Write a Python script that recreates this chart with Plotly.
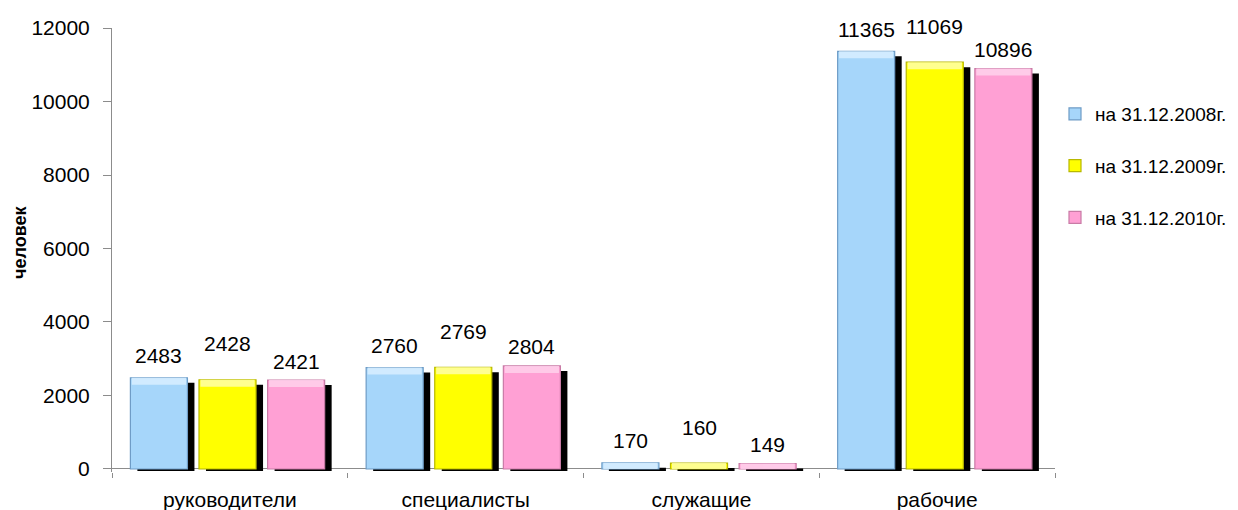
import plotly.graph_objects as go

categories = ["руководители", "специалисты", "служащие", "рабочие"]
series_names = ["на 31.12.2008г.", "на 31.12.2009г.", "на 31.12.2010г."]
v2008 = [2483, 2760, 170, 11365]
v2009 = [2428, 2769, 160, 11069]
v2010 = [2421, 2804, 149, 10896]
y_ticks = [0, 2000, 4000, 6000, 8000, 10000, 12000]
y_tick_labels = ["0", "2000", "4000", "6000", "8000", "10000", "12000"]

values = [v2008, v2009, v2010]
fills = ["#A6D6FA", "#FFFF00", "#FFA0D4"]
edges = ["#6E9CC6", "#B8B800", "#C97BA6"]
lights = ["#D8EEFF", "#FFFFA8", "#FFD2EC"]
offsets = [-0.422, -0.131, 0.160]
lifts = [22, 36, 19]
W = 0.242
SH_DX = 0.0297     # shadow shift (category units ~7px)
SH_DROP = 136      # shadow top drop (~5px)
SH_BASE = -54      # shadow bottom below axis (~2px)
HL = 190           # top highlight band (~7px)

fig = go.Figure()

# shadows
for vals, off in zip(values, offsets):
    fig.add_trace(go.Bar(
        x=categories, y=[max(v - SH_DROP, 0) - SH_BASE for v in vals], base=SH_BASE,
        offset=off + SH_DX, width=W, marker=dict(color="black", line=dict(width=0)),
        showlegend=False, hoverinfo="skip"))

# main bars
for name, vals, off, fc, ec in zip(series_names, values, offsets, fills, edges):
    fig.add_trace(go.Bar(
        x=categories, y=vals, name=name, offset=off, width=W,
        marker=dict(color=fc, line=dict(color=ec, width=1.2)),
        legendgroup=name))

# top bevel highlight
for vals, off, lc in zip(values, offsets, lights):
    fig.add_trace(go.Bar(
        x=categories, y=[min(HL, v) for v in vals], base=[v - min(HL, v) for v in vals],
        offset=off + 0.006, width=W - 0.012,
        marker=dict(color=lc, line=dict(width=0)), opacity=0.85,
        showlegend=False, hoverinfo="skip"))

# data labels
for vals, off, lift in zip(values, offsets, lifts):
    for i, v in enumerate(vals):
        fig.add_annotation(x=i + off + W / 2, y=v, xref="x", yref="y",
                           text=str(v), showarrow=False, yshift=lift,
                           yanchor="middle", xanchor="center",
                           font=dict(size=21, family="Liberation Sans", color="black"))

fig.add_annotation(text="<b>человек</b>", xref="paper", yref="paper",
                   x=-0.0976, y=0.518, textangle=-90, showarrow=False,
                   xanchor="center", yanchor="middle",
                   font=dict(size=18, family="Liberation Sans", color="black"))

boundaries = [i - 0.5 for i in range(len(categories) + 1)]

fig.update_layout(
    width=1238, height=510,
    margin=dict(l=104, r=191, t=20, b=46, autoexpand=False),
    paper_bgcolor="white", plot_bgcolor="white",
    barmode="overlay",
    font=dict(family="Liberation Sans", color="black"),
    xaxis=dict(type="category", range=[-0.5, 3.5],
               ticks="outside", ticklen=9, tickcolor="rgba(0,0,0,0)", showline=False,
               showgrid=False, zeroline=False,
               tickfont=dict(size=21, family="Liberation Sans", color="black"),
               automargin=False),
    xaxis2=dict(type="linear", range=[-0.5, 3.5], overlaying="x", anchor="y",
                side="bottom", tickvals=boundaries, showticklabels=False,
                ticks="outside", ticklen=5, tickcolor="#8c8c8c", showline=False,
                showgrid=False, zeroline=False, automargin=False),
    yaxis=dict(range=[-82, 12000], tickvals=y_ticks, ticktext=y_tick_labels,
               ticks="outside", ticklen=8,
               tickcolor="#8c8c8c", showline=True, linecolor="#8c8c8c", linewidth=1,
               zeroline=True, zerolinecolor="#8c8c8c", zerolinewidth=1,
               showgrid=False, ticklabelstandoff=9, automargin=False,
               tickfont=dict(size=21, family="Liberation Sans", color="black")),
    legend=dict(x=1.0, y=0.849, xanchor="left", yanchor="top",
                traceorder="grouped", tracegroupgap=24,
                font=dict(size=19, family="Liberation Sans", color="black"),
                itemwidth=30, bgcolor="rgba(0,0,0,0)"),
)

# invisible trace to activate the boundary-tick axis
fig.add_trace(go.Scatter(x=[boundaries[0], boundaries[-1]], y=[0, 0], xaxis="x2",
                         mode="lines", line=dict(width=0), showlegend=False,
                         hoverinfo="skip"))

fig.write_html("out.html")
